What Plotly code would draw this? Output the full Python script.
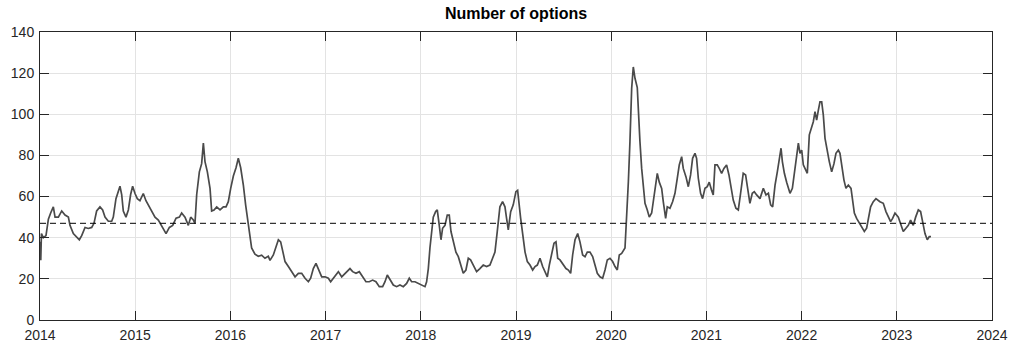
import plotly.graph_objects as go

# Daily option count, sampled along the series (decimal year, count)
t_2014_2015 = [2014.003, 2014.008, 2014.015, 2014.035, 2014.063, 2014.088, 2014.112, 2014.140,
               2014.158, 2014.193, 2014.228, 2014.263, 2014.298, 2014.315, 2014.350, 2014.385,
               2014.413, 2014.438, 2014.473, 2014.508, 2014.543, 2014.567, 2014.595, 2014.630,
               2014.658, 2014.683, 2014.718, 2014.753, 2014.770, 2014.798, 2014.823, 2014.840,
               2014.858, 2014.875, 2014.903, 2014.928, 2014.952, 2014.973, 2014.998, 2015.022,
               2015.050, 2015.085, 2015.113, 2015.138, 2015.173, 2015.208, 2015.243, 2015.261,
               2015.296, 2015.324, 2015.359, 2015.394, 2015.429, 2015.464, 2015.488, 2015.523,
               2015.558, 2015.583, 2015.611, 2015.628, 2015.646, 2015.674, 2015.698, 2015.716,
               2015.733, 2015.758, 2015.786, 2015.803, 2015.828, 2015.856, 2015.891, 2015.926,
               2015.954, 2015.978]
n_2014_2015 = [38, 29, 42, 40, 41, 49, 52, 55,
               50, 50, 53, 51, 50, 46, 42, 40.5,
               39, 41, 45, 44.5, 45, 47, 53, 55,
               53.5, 50, 48, 48, 50, 59, 63, 65,
               61, 53, 50, 53.5, 61, 65, 61.5, 59,
               58, 61.5, 58, 56, 53, 50, 48.6, 47,
               44.5, 42, 45, 46, 49.5, 50, 52, 50,
               46, 50, 48.6, 47, 61, 72, 76, 86,
               77, 72, 64, 53, 53.5, 55, 53.5, 55,
               55, 57.5]

t_2016_2017 = [2016.003, 2016.031, 2016.059, 2016.083, 2016.108, 2016.136, 2016.160, 2016.181,
               2016.206, 2016.223, 2016.258, 2016.293, 2016.328, 2016.363, 2016.398, 2016.416,
               2016.451, 2016.479, 2016.504, 2016.528, 2016.556, 2016.574, 2016.609, 2016.644,
               2016.679, 2016.714, 2016.749, 2016.784, 2016.819, 2016.843, 2016.871, 2016.899,
               2016.924, 2016.959, 2016.994, 2017.029, 2017.053, 2017.081, 2017.116, 2017.134,
               2017.169, 2017.204, 2017.228, 2017.256, 2017.284, 2017.319, 2017.354, 2017.389,
               2017.424, 2017.459, 2017.494, 2017.529, 2017.564, 2017.599, 2017.624, 2017.648,
               2017.676, 2017.711, 2017.746, 2017.781, 2017.816, 2017.851, 2017.879, 2017.904,
               2017.939, 2017.974]
n_2016_2017 = [64, 70, 74, 78.6, 74, 65.6, 56, 48,
               41, 35, 32, 31, 31.5, 30, 31, 29,
               31.6, 35.7, 39, 38, 33, 28.4, 26, 23.5,
               21, 22.7, 22.7, 20.3, 18.6, 20.3, 25, 27.5,
               25, 21, 21, 20.3, 18.6, 20.3, 21.9, 23.5,
               21, 22.7, 23.5, 25, 23.5, 22.7, 23.5, 21,
               18.6, 18.6, 19.4, 18.6, 16.2, 16.2, 18.6, 21.9,
               19.4, 17, 16.2, 17, 16.2, 17.8, 20.3, 18.6,
               18.6, 17.8]

t_2018_2019 = [2018.009, 2018.044, 2018.061, 2018.079, 2018.096, 2018.114, 2018.131, 2018.156,
               2018.173, 2018.194, 2018.212, 2018.229, 2018.254, 2018.278, 2018.299, 2018.317,
               2018.341, 2018.369, 2018.394, 2018.418, 2018.446, 2018.474, 2018.499, 2018.523,
               2018.551, 2018.586, 2018.621, 2018.656, 2018.691, 2018.726, 2018.754, 2018.779,
               2018.803, 2018.831, 2018.859, 2018.884, 2018.901, 2018.919, 2018.944, 2018.971,
               2018.999, 2019.017, 2019.049, 2019.070, 2019.095, 2019.119, 2019.147, 2019.175,
               2019.200, 2019.224, 2019.252, 2019.280, 2019.305, 2019.329, 2019.350, 2019.375,
               2019.399, 2019.420, 2019.438, 2019.462, 2019.490, 2019.525, 2019.550, 2019.574,
               2019.595, 2019.620, 2019.648, 2019.672, 2019.700, 2019.725, 2019.749, 2019.777,
               2019.805, 2019.830, 2019.854, 2019.882, 2019.910, 2019.935, 2019.959, 2019.987]
n_2018_2019 = [17, 16.2, 18.6, 25, 35, 44.6, 50, 52.7,
               53.5, 46, 39, 44.6, 46, 51, 51, 43,
               38, 33, 30.8, 26.7, 22.7, 24.3, 30, 29.2,
               26.7, 23.5, 25, 26.7, 26, 26.7, 30, 33,
               43, 55, 57.5, 55, 49.4, 43.8, 52.7, 56,
               62.4, 63, 49.4, 43, 33, 28.4, 26.7, 24.3,
               26, 26.7, 30, 26, 23.5, 21, 26.7, 33,
               37.3, 38, 30, 29.2, 27.5, 25, 24.3, 22.7,
               31.6, 39, 42, 38, 31.6, 30.8, 33, 33,
               30.8, 26.7, 22.7, 21, 20.3, 24.3, 29.2, 30]

t_2020_2021 = [2020.015, 2020.040, 2020.064, 2020.085, 2020.110, 2020.145, 2020.162, 2020.180,
               2020.197, 2020.215, 2020.232, 2020.250, 2020.274, 2020.285, 2020.302, 2020.320,
               2020.337, 2020.355, 2020.379, 2020.400, 2020.425, 2020.449, 2020.470, 2020.484,
               2020.505, 2020.530, 2020.547, 2020.572, 2020.589, 2020.617, 2020.645, 2020.670,
               2020.694, 2020.715, 2020.740, 2020.757, 2020.785, 2020.810, 2020.834, 2020.855,
               2020.880, 2020.897, 2020.915, 2020.939, 2020.960, 2020.985, 2021.009, 2021.030,
               2021.055, 2021.072, 2021.090, 2021.114, 2021.135, 2021.160, 2021.184, 2021.212,
               2021.237, 2021.258, 2021.282, 2021.310, 2021.335, 2021.359, 2021.387, 2021.412,
               2021.433, 2021.457, 2021.482, 2021.503, 2021.528, 2021.563, 2021.598, 2021.626,
               2021.651, 2021.675, 2021.696, 2021.721, 2021.745, 2021.766, 2021.784, 2021.798,
               2021.819, 2021.843, 2021.861, 2021.878, 2021.903, 2021.924, 2021.948, 2021.966,
               2021.983]
n_2020_2021 = [28.4, 26, 24.3, 31.6, 32.4, 35, 47.8, 67,
               86.7, 112.6, 123, 117.5, 113, 99.7, 86.7, 73.7,
               64, 56.7, 53.5, 50, 52, 60.8, 67, 71.3,
               67, 64, 57.5, 49.4, 55, 54.3, 57.5, 61.6,
               68.9, 75.4, 79.4, 73.7, 69.7, 64.8, 70.5, 78.6,
               81, 78.6, 68.9, 61.6, 59, 64, 64.8, 67,
               63, 60.8, 75.4, 75.4, 73.7, 71.3, 73.7, 75.4,
               70.5, 64, 58.3, 54.3, 53.5, 61.6, 71.3, 70.5,
               64, 56.7, 61.6, 62.4, 60.8, 59, 64, 60.8,
               61.6, 56, 55, 65.6, 72, 78.6, 83.5, 77,
               71.3, 67, 64, 61.6, 64, 71.3, 78.6, 86,
               81]

t_2022_2023 = [2022.001, 2022.018, 2022.046, 2022.060, 2022.081, 2022.106, 2022.123, 2022.141,
               2022.158, 2022.176, 2022.193, 2022.211, 2022.228, 2022.246, 2022.270, 2022.291,
               2022.316, 2022.340, 2022.361, 2022.386, 2022.403, 2022.421, 2022.445, 2022.466,
               2022.491, 2022.519, 2022.536, 2022.554, 2022.578, 2022.606, 2022.631, 2022.659,
               2022.683, 2022.701, 2022.725, 2022.753, 2022.781, 2022.823, 2022.858, 2022.886,
               2022.911, 2022.935, 2022.956, 2022.981, 2023.016, 2023.040, 2023.068, 2023.096,
               2023.121, 2023.145, 2023.173, 2023.198, 2023.226, 2023.250, 2023.271, 2023.296,
               2023.320, 2023.341, 2023.359]
n_2022_2023 = [82.6, 75.4, 72, 71.3, 90, 94, 96.4, 101.3,
               97.2, 102, 106, 106, 99.7, 88.3, 81.8, 77,
               72, 76, 81, 82.6, 81, 75.4, 68, 64,
               65.6, 64, 59, 52, 49.4, 47, 45.4, 43,
               44.6, 49.4, 55, 57.5, 59, 57.5, 56.7, 52.7,
               50, 47.8, 49.4, 52, 50, 47, 43, 44.6,
               46, 48.6, 46, 50, 53.5, 52.7, 47.8, 42,
               39, 40.5, 40.5]

mean_level = 47

year_ticks = list(range(2014, 2025))
count_ticks = list(range(0, 141, 20))

t = t_2014_2015 + t_2016_2017 + t_2018_2019 + t_2020_2021 + t_2022_2023
n = n_2014_2015 + n_2016_2017 + n_2018_2019 + n_2020_2021 + n_2022_2023

font_family = "Liberation Sans, Arial, Helvetica, sans-serif"
axis_color = "#262626"

fig = go.Figure()
fig.add_trace(go.Scatter(
    x=t, y=n, mode="lines",
    line=dict(color="#4a4a4a", width=1.7),
    showlegend=False, hoverinfo="x+y",
))
fig.add_trace(go.Scatter(
    x=[year_ticks[0], year_ticks[-1]], y=[mean_level, mean_level], mode="lines",
    line=dict(color="#000000", width=1, dash="6px,4px"),
    showlegend=False, hoverinfo="skip",
))

axis_common = dict(
    showline=True, linecolor=axis_color, linewidth=1, mirror="allticks",
    ticks="inside", ticklen=9, tickcolor=axis_color, tickwidth=1,
    showgrid=True, gridcolor="#e3e3e3", gridwidth=1,
    zeroline=False, automargin=False,
    tickfont=dict(family=font_family, size=14, color=axis_color),
)

fig.update_xaxes(range=[2014, 2024], tickvals=year_ticks,
                 ticktext=[str(y) for y in year_ticks], ticklabelstandoff=2,
                 **axis_common)
fig.update_yaxes(range=[0, 140], tickvals=count_ticks, ticklabelstandoff=2,
                 **axis_common)

fig.update_layout(
    width=1009, height=343,
    margin=dict(l=40, r=17, t=32, b=23, pad=0),
    paper_bgcolor="white", plot_bgcolor="white",
    title=dict(text="<b>Number of options</b>", x=0.5, xref="paper",
               y=1, yref="container", yanchor="top", pad=dict(t=8),
               font=dict(family=font_family, size=16, color="#000000")),
)

fig.write_html("out.html", include_plotlyjs=True, full_html=True,
               config={"displayModeBar": False})
